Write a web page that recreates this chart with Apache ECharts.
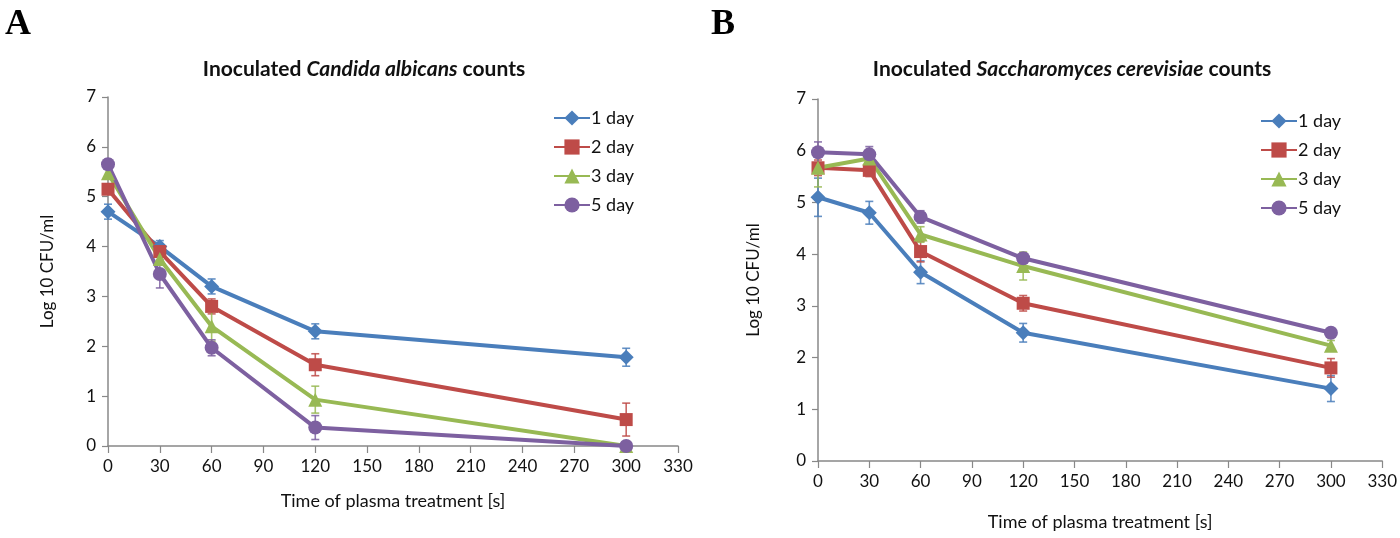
<!DOCTYPE html>
<html><head><meta charset="utf-8">
<script src="https://cdn.jsdelivr.net/npm/echarts@6/dist/echarts.min.js"></script>
<style>html,body{margin:0;padding:0;background:#fff}#c{width:1400px;height:538px}</style>
</head><body><div id="c"></div>
<script>
const times = [0, 30, 60, 120, 300];
const seriesNames = ['1 day', '2 day', '3 day', '5 day'];
const xTicks = [0, 30, 60, 90, 120, 150, 180, 210, 240, 270, 300, 330];
// Panel A: Candida albicans
const candida1 = [4.70, 4.00, 3.20, 2.30, 1.78];
const candida2 = [5.15, 3.90, 2.80, 1.63, 0.53];
const candida3 = [5.47, 3.75, 2.40, 0.93, 0.00];
const candida5 = [5.65, 3.45, 1.97, 0.37, 0.00];
const candidaErr1 = [0.15, 0.12, 0.15, 0.15, 0.18];
const candidaErr2 = [0.10, 0.10, 0.15, 0.22, 0.33];
const candidaErr3 = [0.10, 0.10, 0.30, 0.27, 0.00];
const candidaErr5 = [0.10, 0.28, 0.16, 0.24, 0.00];
// Panel B: Saccharomyces cerevisiae
const sacch1 = [5.10, 4.80, 3.65, 2.48, 1.40];
const sacch2 = [5.67, 5.62, 4.05, 3.05, 1.80];
const sacch3 = [5.67, 5.85, 4.38, 3.77, 2.23];
const sacch5 = [5.97, 5.93, 4.72, 3.92, 2.48];
const sacchErr1 = [0.37, 0.22, 0.22, 0.18, 0.25];
const sacchErr2 = [0.15, 0.12, 0.20, 0.15, 0.18];
const sacchErr3 = [0.37, 0.10, 0.15, 0.27, 0.10];
const sacchErr5 = [0.20, 0.15, 0.12, 0.10, 0.05];

const colors = ['#4A7EBB', '#BE4B48', '#98B954', '#7D60A0'];
const symbols = ['diamond', 'rect', 'triangle', 'circle'];
const symbolSizes = [15, 13, 14, 14];
const FONT = 'Lato, "Open Sans", sans-serif';

const panels = [
  {vals: [candida1, candida2, candida3, candida5], errs: [candidaErr1, candidaErr2, candidaErr3, candidaErr5]},
  {vals: [sacch1, sacch2, sacch3, sacch5], errs: [sacchErr1, sacchErr2, sacchErr3, sacchErr5]}
];

const series = [];
panels.forEach((p, pi) => {
  p.vals.forEach((v, si) => {
    series.push({
      type: 'line', name: seriesNames[si], xAxisIndex: pi, yAxisIndex: pi, z: 3,
      data: times.map((t, k) => [t, v[k]]),
      symbol: symbols[si], symbolSize: symbolSizes[si],
      lineStyle: {color: colors[si], width: 4},
      itemStyle: {color: colors[si]},
      animation: false
    });
  });
  p.vals.forEach((v, si) => {
    series.push({
      type: 'custom', name: seriesNames[si] + ' error', xAxisIndex: pi, yAxisIndex: pi, z: 1,
      silent: true,
      itemStyle: {color: colors[si]},
      data: times.map((t, k) => [t, v[k] - p.errs[si][k], v[k] + p.errs[si][k]]),
      renderItem: function (params, api) {
        const lo = api.coord([api.value(0), api.value(1)]);
        const hi = api.coord([api.value(0), api.value(2)]);
        const w = 4;
        const st = {stroke: colors[si], lineWidth: 1.6, opacity: 0.85};
        return {type: 'group', children: [
          {type: 'line', shape: {x1: lo[0], y1: lo[1], x2: hi[0], y2: hi[1]}, style: st},
          {type: 'line', shape: {x1: lo[0] - w, y1: lo[1], x2: lo[0] + w, y2: lo[1]}, style: st},
          {type: 'line', shape: {x1: hi[0] - w, y1: hi[1], x2: hi[0] + w, y2: hi[1]}, style: st}
        ]};
      }
    });
  });
});

const axisLine = {lineStyle: {color: '#888', width: 1.5}};
function xAx(gi, nameGap) {
  return {type: 'value', gridIndex: gi, min: 0, max: 330, interval: 30,
    axisLine: axisLine, axisTick: {show: true, length: 7, lineStyle: {color: '#888', width: 1.2}},
    splitLine: {show: false},
    axisLabel: {color: '#111', fontSize: 17, fontFamily: FONT, margin: 12},
    name: 'Time of plasma treatment [s]', nameLocation: 'middle', nameGap: nameGap,
    nameTextStyle: {color: '#111', fontSize: 18, fontFamily: FONT}};
}
function yAx(gi, nameGap) {
  return {type: 'value', gridIndex: gi, min: 0, max: 7, interval: 1,
    axisLine: {show: true, lineStyle: {color: '#888', width: 1.5}},
    axisTick: {show: true, length: 6, lineStyle: {color: '#888', width: 1.2}},
    splitLine: {show: false},
    axisLabel: {color: '#111', fontSize: 17, fontFamily: FONT, margin: 12},
    name: 'Log 10 CFU/ml', nameLocation: 'middle', nameGap: nameGap,
    nameTextStyle: {color: '#111', fontSize: 17, fontFamily: FONT}};
}
function legend(left, top) {
  return {left: left, top: top, orient: 'vertical', itemGap: 11, itemWidth: 36, itemHeight: 19,
    data: seriesNames.map(n => ({name: n})),
    textStyle: {color: '#111', fontSize: 18, fontFamily: FONT, padding: [0, 0, 0, -4]}};
}
const titleRich = {
  b: {fontWeight: 'bold', fontSize: 21, color: '#111', fontFamily: FONT},
  i: {fontWeight: 'bold', fontStyle: 'italic', fontSize: 21, color: '#111', fontFamily: FONT}
};

const option = {
  backgroundColor: '#fff',
  animation: false,
  title: [
    {text: '{b|Inoculated }{i|Candida albicans}{b| counts}', left: 359, top: 54, textAlign: 'center', textStyle: {rich: titleRich}},
    {text: '{b|Inoculated }{i|Saccharomyces cerevisiae}{b| counts}', left: 1067, top: 54, textAlign: 'center', textStyle: {rich: titleRich}},
    {text: 'A', left: 0, top: 2, textStyle: {fontFamily: '"Liberation Serif", serif', fontWeight: 'bold', fontSize: 36, color: '#000'}},
    {text: 'B', left: 706, top: 2, textStyle: {fontFamily: '"Liberation Serif", serif', fontWeight: 'bold', fontSize: 36, color: '#000'}}
  ],
  legend: [legend(548, 104), legend(1255, 107)],
  grid: [
    {left: 108, right: 722, top: 97, bottom: 92},
    {left: 818, right: 13, top: 99, bottom: 77}
  ],
  xAxis: [xAx(0, 46), xAx(1, 52)],
  yAxis: [yAx(0, 52), yAx(1, 56)],
  series: series
};
const chart = echarts.init(document.getElementById('c'));
chart.setOption(option);
</script></body></html>
